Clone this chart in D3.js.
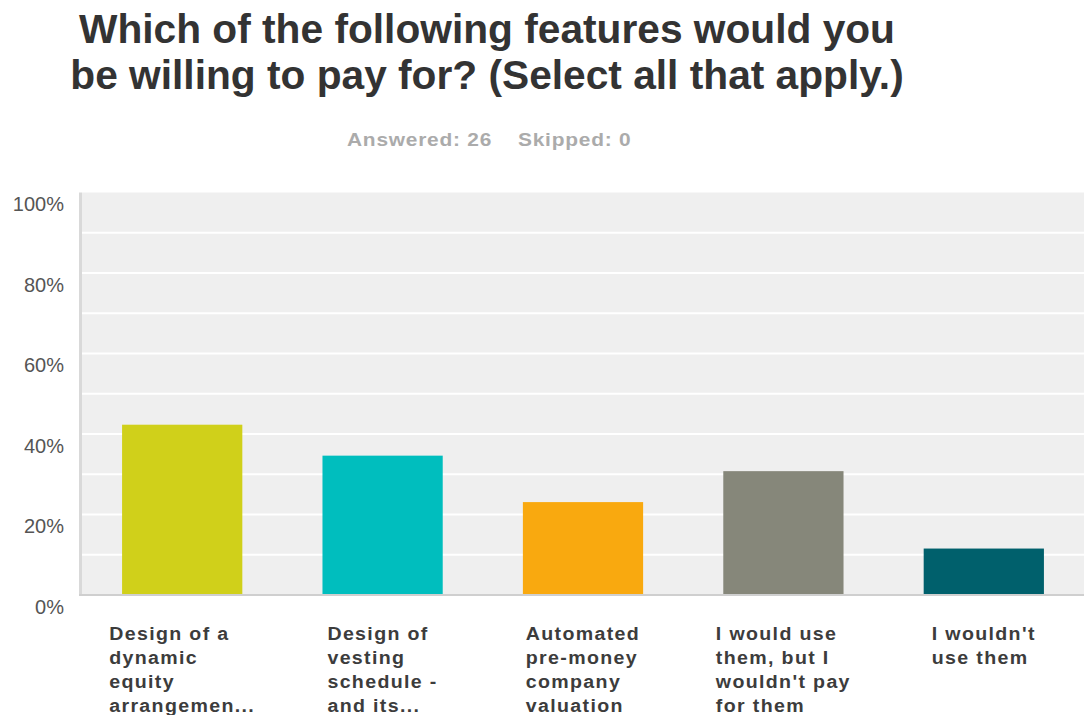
<!DOCTYPE html>
<html>
<head>
<meta charset="utf-8">
<script src="https://cdnjs.cloudflare.com/ajax/libs/d3/7.8.5/d3.min.js"></script>
<style>
  html, body { margin: 0; padding: 0; background: #ffffff; }
  svg { display: block; }
</style>
</head>
<body>
<div id="chart"></div>
<script>
// Survey question and response summary
const titleLines = ["Which of the following features would you", "be willing to pay for? (Select all that apply.)"];
const answered = 26;
const skipped = 0;

// Answer choices (as labelled under each bar) and share of respondents (%)
const categories = [
  "Design of a dynamic equity arrangemen...",
  "Design of vesting schedule - and its...",
  "Automated pre-money company valuation",
  "I would use them, but I wouldn't pay for them",
  "I wouldn't use them"
];
const categoryLines = [
  ["Design of a", "dynamic", "equity", "arrangemen..."],
  ["Design of", "vesting", "schedule -", "and its..."],
  ["Automated", "pre-money", "company", "valuation"],
  ["I would use", "them, but I", "wouldn't pay", "for them"],
  ["I wouldn't", "use them"]
];
const percentages = [42.31, 34.62, 23.08, 30.77, 11.54];
const barColors = ["#d0d01a", "#00bebe", "#f9a90f", "#86877a", "#00606c"];

// Axis ticks
const tickValues = [0, 20, 40, 60, 80, 100];
const gridValues = [10, 20, 30, 40, 50, 60, 70, 80, 90];

const W = 1084, H = 715;
const plot = { left: 82, right: 1084, top: 192.5, bottom: 595 };
const FONT = "'Liberation Sans', Arial, Helvetica, sans-serif";

const svg = d3.select("#chart").append("svg")
  .attr("width", W).attr("height", H);

const x = d3.scaleBand()
  .domain(categories)
  .range([plot.left, plot.right])
  .paddingInner(0.4)
  .paddingOuter(0.2);

const y = d3.scaleLinear()
  .domain([0, 100])
  .range([plot.bottom, plot.top]);

// Title
svg.append("g").selectAll("text")
  .data(titleLines)
  .join("text")
  .attr("x", 487)
  .attr("y", (d, i) => 43 + i * 46)
  .attr("text-anchor", "middle")
  .attr("font-family", FONT)
  .attr("font-weight", "bold")
  .attr("font-size", 40.7)
  .attr("fill", "#333333")
  .text(d => d);

// Answered / skipped line (slightly widened bold face)
const subParts = [
  { text: `Answered: ${answered}`, x: 347 },
  { text: `Skipped: ${skipped}`, x: 518 }
];
svg.append("g").selectAll("text")
  .data(subParts)
  .join("text")
  .attr("transform", d => `translate(${d.x},146) scale(1.1,1)`)
  .attr("font-family", FONT)
  .attr("font-weight", "bold")
  .attr("font-size", 19)
  .style("letter-spacing", "0.7px")
  .attr("fill", "#ababab")
  .text(d => d.text);

// Plot background
svg.append("rect")
  .attr("x", plot.left).attr("y", plot.top)
  .attr("width", plot.right - plot.left)
  .attr("height", plot.bottom - plot.top)
  .attr("fill", "#efefef");

// Horizontal gridlines
svg.append("g").selectAll("line")
  .data(gridValues)
  .join("line")
  .attr("x1", plot.left).attr("x2", plot.right)
  .attr("y1", d => y(d)).attr("y2", d => y(d))
  .attr("stroke", "#ffffff")
  .attr("stroke-width", 2);

// Y axis labels
const yAxis = d3.axisLeft(y)
  .tickValues(tickValues)
  .tickFormat(d => d + "%")
  .tickSize(0)
  .tickPadding(0);
const yg = svg.append("g")
  .attr("transform", `translate(64,0)`)
  .call(yAxis);
yg.select(".domain").remove();
yg.selectAll("text")
  .attr("dy", null)
  .attr("y", 18)
  .attr("x", 0)
  .attr("font-family", FONT)
  .attr("font-size", 20)
  .attr("fill", "#555555");

// Bars
svg.append("g").selectAll("rect")
  .data(categories)
  .join("rect")
  .attr("x", d => x(d))
  .attr("width", x.bandwidth())
  .attr("y", (d, i) => y(percentages[i]))
  .attr("height", (d, i) => y(0) - y(percentages[i]))
  .attr("fill", (d, i) => barColors[i]);

// Left axis rule and baseline
svg.append("line")
  .attr("x1", 80.5).attr("x2", 80.5)
  .attr("y1", plot.top).attr("y2", plot.bottom)
  .attr("stroke", "#d9d9d9").attr("stroke-width", 3);
svg.append("line")
  .attr("x1", 79).attr("x2", plot.right)
  .attr("y1", plot.bottom).attr("y2", plot.bottom)
  .attr("stroke", "#cfcfcf").attr("stroke-width", 2);

// Category labels: left-aligned lines, block centred under each bar
const LABEL_SCALE = 1.12;
const labelGroups = svg.append("g").selectAll("g")
  .data(categories)
  .join("g");

labelGroups.each(function (d, i) {
  const g = d3.select(this);
  const texts = g.selectAll("text")
    .data(categoryLines[i])
    .join("text")
    .attr("x", 0)
    .attr("y", (t, j) => j * 24)
    .attr("font-family", FONT)
    .attr("font-weight", "bold")
    .attr("font-size", 17.5)
    .style("letter-spacing", "1.2px")
    .attr("fill", "#3c3c3c")
    .text(t => t);
  let maxW = 0;
  texts.each(function () { maxW = Math.max(maxW, this.getComputedTextLength()); });
  const cx = x(d) + x.bandwidth() / 2;
  g.attr("transform", `translate(${cx - (maxW * LABEL_SCALE) / 2},640) scale(${LABEL_SCALE},1)`);
});
</script>
</body>
</html>
